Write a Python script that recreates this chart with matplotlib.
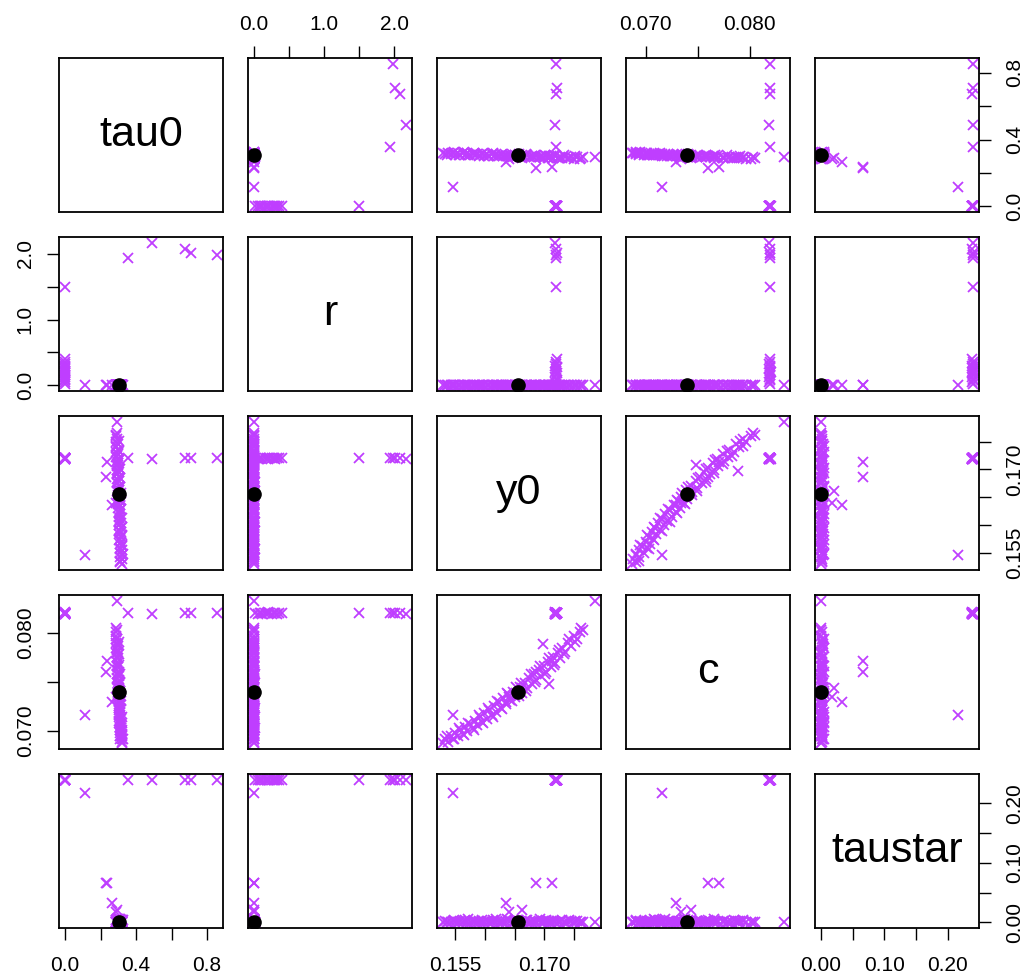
import matplotlib
matplotlib.use('Agg')
import matplotlib.pyplot as plt

plt.rcParams['font.family'] = ['Liberation Sans', 'DejaVu Sans']

names = ['tau0', 'r', 'y0', 'c', 'taustar']

# main cloud of samples (r ~ 0, taustar ~ 0)
main_y0 = [0.1529, 0.1533, 0.1538, 0.1542, 0.1546, 0.1550, 0.1554, 0.1558, 0.1562, 0.1566,
           0.1570, 0.1575, 0.1579, 0.1583, 0.1587, 0.1591, 0.1595, 0.1599, 0.1603, 0.1607,
           0.1611, 0.1615, 0.1619, 0.1623, 0.1627, 0.1631, 0.1635, 0.1639, 0.1643, 0.1647,
           0.1651, 0.1659, 0.1663, 0.1667, 0.1671, 0.1675, 0.1679, 0.1683, 0.1687, 0.1691,
           0.1695, 0.1699, 0.1703, 0.1707, 0.1711, 0.1715, 0.1719, 0.1723, 0.1727, 0.1731,
           0.1735, 0.1740, 0.1745, 0.1750, 0.1755, 0.1760, 0.1765, 0.1786, 0.1698, 0.1708]
main_c = [0.0687, 0.0691, 0.0688, 0.0694, 0.0691, 0.0698, 0.0694, 0.0701, 0.0697, 0.0704,
          0.0700, 0.0707, 0.0703, 0.0710, 0.0706, 0.0714, 0.0709, 0.0718, 0.0712, 0.0721,
          0.0716, 0.0725, 0.0719, 0.0729, 0.0723, 0.0733, 0.0727, 0.0737, 0.0731, 0.0740,
          0.0734, 0.0745, 0.0739, 0.0749, 0.0744, 0.0754, 0.0748, 0.0758, 0.0752, 0.0762,
          0.0756, 0.0766, 0.0760, 0.0770, 0.0765, 0.0775, 0.0769, 0.0779, 0.0774, 0.0785,
          0.0780, 0.0790, 0.0787, 0.0797, 0.0794, 0.0801, 0.0803, 0.0833, 0.0789, 0.0748]
main_tau0 = [0.322, 0.312, 0.321, 0.311, 0.320, 0.310, 0.319, 0.309, 0.318, 0.308,
             0.317, 0.307, 0.316, 0.306, 0.315, 0.305, 0.314, 0.304, 0.313, 0.303,
             0.312, 0.302, 0.311, 0.301, 0.310, 0.300, 0.309, 0.299, 0.308, 0.298,
             0.307, 0.297, 0.306, 0.296, 0.305, 0.295, 0.304, 0.294, 0.303, 0.293,
             0.302, 0.292, 0.301, 0.291, 0.300, 0.290, 0.299, 0.289, 0.298, 0.288,
             0.297, 0.287, 0.296, 0.286, 0.295, 0.286, 0.294, 0.294, 0.296, 0.300]
main_r = [0.000, 0.004, 0.001, 0.000, 0.006, 0.002, 0.000, 0.003, 0.001, 0.000,
          0.005, 0.000, 0.002, 0.004, 0.000, 0.001, 0.006, 0.000, 0.003, 0.002,
          0.000, 0.004, 0.001, 0.000, 0.005, 0.002, 0.000, 0.003, 0.001, 0.000,
          0.004, 0.000, 0.002, 0.006, 0.000, 0.001, 0.003, 0.000, 0.005, 0.002,
          0.000, 0.004, 0.001, 0.000, 0.003, 0.002, 0.000, 0.005, 0.001, 0.000,
          0.004, 0.002, 0.000, 0.003, 0.001, 0.000, 0.002, 0.000, 0.001, 0.000]
main_taustar = [0.000, 0.002, 0.001, 0.000, 0.003, 0.001, 0.000, 0.002, 0.000, 0.004,
                0.001, 0.000, 0.002, 0.003, 0.000, 0.001, 0.004, 0.000, 0.002, 0.001,
                0.000, 0.003, 0.005, 0.000, 0.002, 0.001, 0.000, 0.004, 0.002, 0.000,
                0.003, 0.001, 0.000, 0.002, 0.004, 0.000, 0.001, 0.003, 0.000, 0.002,
                0.001, 0.000, 0.004, 0.002, 0.000, 0.003, 0.001, 0.000, 0.002, 0.004,
                0.000, 0.001, 0.003, 0.000, 0.002, 0.001, 0.000, 0.000, 0.003, 0.002]

# more of the main cloud, on either side of its ridge
wide_y0 = [0.1535, 0.1548, 0.1556, 0.1564, 0.1572, 0.1581, 0.1589, 0.1597, 0.1605, 0.1613,
           0.1621, 0.1629, 0.1637, 0.1645, 0.1653, 0.1657, 0.1661, 0.1669, 0.1677, 0.1685,
           0.1693, 0.1701, 0.1709, 0.1717, 0.1725, 0.1733, 0.1742, 0.1752, 0.1762]
wide_c = [0.0694, 0.0691, 0.0703, 0.0695, 0.0708, 0.0701, 0.0716, 0.0708, 0.0723, 0.0714,
          0.0730, 0.0722, 0.0738, 0.0730, 0.0745, 0.0735, 0.0749, 0.0741, 0.0758, 0.0750,
          0.0766, 0.0758, 0.0774, 0.0767, 0.0783, 0.0778, 0.0794, 0.0791, 0.0805]
wide_tau0 = [0.310, 0.324, 0.307, 0.323, 0.306, 0.321, 0.304, 0.319, 0.302, 0.318,
             0.301, 0.316, 0.299, 0.314, 0.298, 0.313, 0.297, 0.312, 0.295, 0.310,
             0.293, 0.308, 0.291, 0.306, 0.290, 0.305, 0.288, 0.303, 0.287]
wide_r = [0.003, 0.000, 0.007, 0.001, 0.000, 0.005, 0.002, 0.000, 0.008, 0.001,
          0.000, 0.004, 0.002, 0.000, 0.006, 0.001, 0.000, 0.003, 0.007, 0.000,
          0.002, 0.005, 0.000, 0.001, 0.004, 0.000, 0.006, 0.002, 0.000]
wide_taustar = [0.001, 0.004, 0.000, 0.002, 0.005, 0.000, 0.003, 0.001, 0.000, 0.004,
                0.002, 0.000, 0.005, 0.001, 0.003, 0.000, 0.002, 0.004, 0.000, 0.001,
                0.005, 0.002, 0.000, 0.003, 0.001, 0.000, 0.004, 0.002, 0.000]

# boundary group (y0 ~ 0.172, c ~ 0.082, taustar ~ 0.24)
edge_tau0 = [0.0, 0.0, 0.0, 0.0, 0.0, 0.0, 0.0, 0.0, 0.0, 0.0, 0.0, 0.0, 0.0, 0.0, 0.0, 0.0,
             0.355, 0.49, 0.675, 0.71, 0.855]
edge_r = [0.02, 0.05, 0.08, 0.10, 0.12, 0.15, 0.18, 0.20, 0.22, 0.25, 0.28, 0.30, 0.33, 0.36, 0.40, 1.50,
          1.94, 2.17, 2.08, 2.02, 1.98]
edge_y0 = [0.1720, 0.1719, 0.1721, 0.1720, 0.1718, 0.1720, 0.1721, 0.1719, 0.1720, 0.1720, 0.1721,
           0.1719, 0.1720, 0.1720, 0.1721, 0.1720, 0.1720, 0.1719, 0.1720, 0.1721, 0.1720]
edge_c = [0.0820, 0.0819, 0.0820, 0.0820, 0.0819, 0.0820, 0.0820, 0.0821, 0.0820, 0.0819, 0.0820,
          0.0820, 0.0819, 0.0820, 0.0820, 0.0820, 0.0820, 0.0819, 0.0820, 0.0820, 0.0820]
edge_taustar = [0.240, 0.239, 0.240, 0.240, 0.239, 0.240, 0.240, 0.239, 0.240, 0.240, 0.240,
                0.239, 0.240, 0.240, 0.239, 0.240, 0.240, 0.240, 0.239, 0.240, 0.240]

# scattered points
odd_tau0 = [0.290, 0.285, 0.266, 0.235, 0.232, 0.113]
odd_r = [0.0, 0.0, 0.0, 0.0, 0.0, 0.0]
odd_y0 = [0.1662, 0.1640, 0.1635, 0.1713, 0.1686, 0.1545]
odd_c = [0.0744, 0.0734, 0.0729, 0.0771, 0.0760, 0.0716]
odd_taustar = [0.020, 0.017, 0.033, 0.066, 0.066, 0.217]

# point estimate
best = {'tau0': 0.305, 'r': 0.0, 'y0': 0.1655, 'c': 0.0740, 'taustar': 0.0}

samples = {
    'tau0': main_tau0 + wide_tau0 + edge_tau0 + odd_tau0,
    'r': main_r + wide_r + edge_r + odd_r,
    'y0': main_y0 + wide_y0 + edge_y0 + odd_y0,
    'c': main_c + wide_c + edge_c + odd_c,
    'taustar': main_taustar + wide_taustar + edge_taustar + odd_taustar,
}

ticks = {
    'tau0': ([0, 0.2, 0.4, 0.6, 0.8], ['0.0', '', '0.4', '', '0.8']),
    'r': ([0, 0.5, 1.0, 1.5, 2.0], ['0.0', '', '1.0', '', '2.0']),
    'y0': ([0.155, 0.160, 0.165, 0.170, 0.175], ['0.155', '', '', '0.170', '']),
    'c': ([0.070, 0.075, 0.080], ['0.070', '', '0.080']),
    'taustar': ([0, 0.05, 0.10, 0.15, 0.20], ['0.00', '', '0.10', '', '0.20']),
}

purple = '#BF3EFF'
W, H = 1031, 980


def lims(name):
    v = samples[name]
    lo, hi = min(v), max(v)
    pad = 0.04 * (hi - lo)
    return lo - pad, hi + pad


fig = plt.figure(figsize=(W / 100, H / 100), dpi=100)
n = len(names)
tick_kw = dict(length=8.5, width=1.0, labelsize=15, direction='out')

for i in range(n):
    for j in range(n):
        left = (59 + 189 * j) / W
        bottom = 1 - (212 + 179 * i) / H
        ax = fig.add_axes([left, bottom, 164 / W, 154 / H])
        for s in ax.spines.values():
            s.set_linewidth(1.3)
        ax.set_xticks([])
        ax.set_yticks([])
        xn, yn = names[j], names[i]
        if i == j:
            ax.text(0.5, 0.5, names[i], transform=ax.transAxes, ha='center',
                    va='center', fontsize=31)
        else:
            ax.plot(samples[xn], samples[yn], linestyle='none', marker='x',
                    markersize=7.5, mew=1.3, color=purple)
            ax.plot(best[xn], best[yn], 'o', color='black', markersize=9.5)

        # outer axes, alternating sides like R's pairs()
        if i == 0 and j % 2 == 1:
            ax.xaxis.tick_top()
            ax.set_xticks(ticks[xn][0])
            ax.set_xticklabels(ticks[xn][1])
            ax.tick_params(axis='x', pad=9, **tick_kw)
        if i == n - 1 and j % 2 == 0:
            ax.set_xticks(ticks[xn][0])
            ax.set_xticklabels(ticks[xn][1])
            ax.tick_params(axis='x', pad=12, **tick_kw)
        if j == 0 and i % 2 == 1:
            ax.set_yticks(ticks[yn][0])
            ax.set_yticklabels(ticks[yn][1], rotation=90, va='center')
            ax.tick_params(axis='y', pad=9, **tick_kw)
        if j == n - 1 and i % 2 == 0:
            ax.yaxis.tick_right()
            ax.set_yticks(ticks[yn][0])
            ax.set_yticklabels(ticks[yn][1], rotation=90, va='center')
            ax.tick_params(axis='y', pad=10, **tick_kw)
        ax.set_xlim(lims(xn))
        ax.set_ylim(lims(yn))

fig.savefig('out.png', dpi=100)
